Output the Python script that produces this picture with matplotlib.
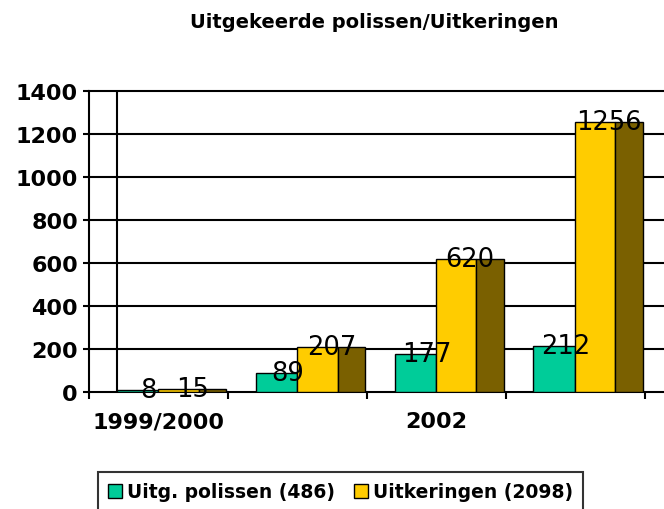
import matplotlib
matplotlib.use("Agg")
import matplotlib.pyplot as plt
import numpy as np
from matplotlib.patches import Patch

categories = ["1999/2000", "", "2002", ""]
polissen = [8, 89, 177, 212]
uitkeringen = [15, 207, 620, 1256]
series_names = ["Uitg. polissen (486)", "Uitkeringen (2098)"]
title = "Uitgekeerde polissen/Uitkeringen"

green = "#00CC99"
yellow = "#FFCC00"
brown = "#7A6000"

W, H = 664, 510
fig = plt.figure(figsize=(W / 100, H / 100), dpi=100)
ax = fig.add_axes([89 / W, (510 - 393) / H, (W - 89) / W, (393 - 92) / H])

x = np.arange(len(categories))
gw, yw, dw = 0.30, 0.29, 0.20
ax.bar(x - 0.30, polissen, width=gw, align="edge", color=green, edgecolor="black", linewidth=1, zorder=3)
ax.bar(x + 0.0, uitkeringen, width=yw, align="edge", color=yellow, edgecolor="black", linewidth=1, zorder=3)
ax.bar(x + yw, uitkeringen, width=dw, align="edge", color=brown, edgecolor="black", linewidth=1, zorder=3)

for xi, v in zip(x, polissen):
    ax.text(xi - 0.15 + 0.08, v, str(v), ha="center", va="center", fontsize=18.5,
            family="DejaVu Sans", zorder=5)
for xi, v in zip(x, uitkeringen):
    ax.text(xi + (yw + dw) / 2, v, str(v), ha="center", va="center", fontsize=18.5,
            family="DejaVu Sans", zorder=5)

ax.set_xlim(-0.5, 3.64)
ax.set_ylim(0, 1400)
yt = np.arange(0, 1401, 200)
ax.set_yticks(yt)
ax.set_yticklabels([str(v) for v in yt], fontsize=16, fontweight="bold", family="DejaVu Sans")
for v in yt[1:]:
    ax.axhline(v, color="black", linewidth=1.5, zorder=1, clip_on=False)
ax.axvline(-0.30, color="black", linewidth=1.5, zorder=1)

ax.set_xticks(x)
ax.set_xticklabels(categories, fontsize=16, fontweight="bold", family="DejaVu Sans")
ax.set_xticks(np.arange(-0.5, 4, 1.0), minor=True)
ax.tick_params(axis="x", which="major", length=0, pad=14)
ax.tick_params(axis="x", which="minor", length=5, width=1.5, direction="out")
ax.tick_params(axis="y", length=4, width=1.5, direction="out", pad=4)

for s in ["top", "right"]:
    ax.spines[s].set_visible(False)
ax.spines["left"].set_linewidth(1.5)
ax.spines["bottom"].set_linewidth(1.5)

fig.text(374 / W, 1 - 22 / H, title, ha="center", va="center", fontsize=14,
         fontweight="bold", family="DejaVu Sans")

handles = [Patch(facecolor=green, edgecolor="black"), Patch(facecolor=yellow, edgecolor="black")]
leg = fig.legend(handles, series_names, loc="upper left", bbox_to_anchor=(98 / W, 1 - 473 / H),
                 ncol=2, frameon=True, fancybox=False, edgecolor="black",
                 prop={"family": "DejaVu Sans", "weight": "bold", "size": 13.5},
                 handlelength=0.75, handleheight=0.75, handletextpad=0.25, columnspacing=1.0,
                 borderpad=0.55, borderaxespad=0)
leg.get_frame().set_linewidth(1.5)

fig.savefig("out.png", dpi=100, facecolor="white")
